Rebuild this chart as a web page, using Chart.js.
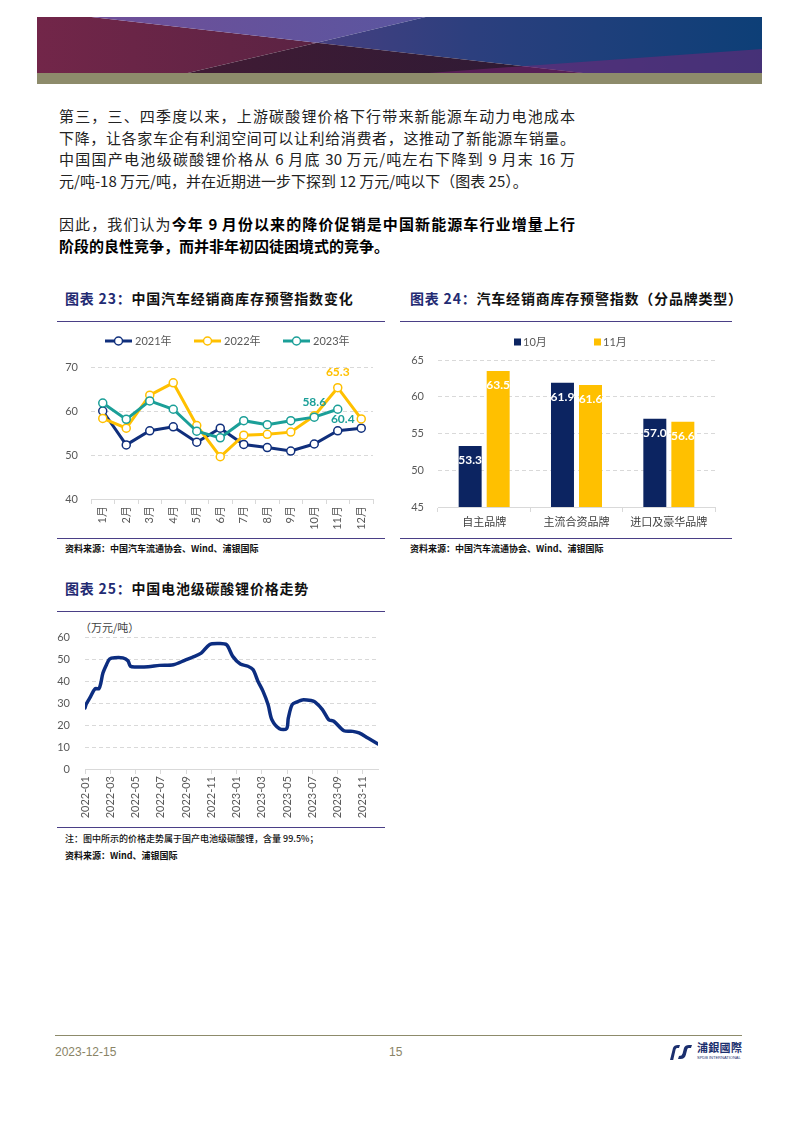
<!DOCTYPE html>
<html>
<head>
<meta charset="utf-8">
<script src="https://cdn.jsdelivr.net/npm/chart.js@4.4.0/dist/chart.umd.min.js"></script>
<style>
  body { margin: 0; width: 794px; height: 1123px; position: relative; background: #fff; overflow: hidden;
         font-family: "Noto Sans CJK SC", sans-serif; }
  .abs { position: absolute; }
  .p { position: absolute; left: 0; top: 0; width: 100%; height: 100%; }
  .txt { font-size: 15px; line-height: 21.7px; color: #222; }
  .j { text-align: justify; text-align-last: justify; }
  .txt b { color: #000; }
  .title { font-size: 14px; font-weight: 700; letter-spacing: 0.8px; color: #111; line-height: 18px; white-space: nowrap; }
  .tn { color: #232a72; }
  .rule { height: 1.3px; background: #4a3f86; }
  .src { font-size: 9px; font-weight: 600; color: #111; white-space: nowrap; }
  .foot { font-family: "Liberation Sans Narrow", "Liberation Sans", sans-serif; font-size: 12px; color: #8a8466; }
</style>
</head>
<body>

<!-- header banner -->
<div class="abs" style="left:37px;top:17px;width:725px;height:56px;overflow:hidden">
  <div class="p" style="background:linear-gradient(90deg,#722649,#5a2343 40%);clip-path:polygon(0 0,7.5% 0,38.6% 45.8%,20.8% 100%,0 100%)"></div>
  <div class="p" style="background:linear-gradient(90deg,#6e4f98 10%,#5a56a0 54%);clip-path:polygon(7.5% 0,53.6% 0,38.6% 45.8%)"></div>
  <div class="p" style="background:linear-gradient(90deg,#463f80 38%,#2c3f7e 60%,#0d3f77 100%);clip-path:polygon(53.6% 0,100% 0,100% 100%,75.3% 100%,38.6% 45.8%)"></div>
  <div class="p" style="background:linear-gradient(90deg,#3f1b34 25%,#2c1a35 75%);clip-path:polygon(38.6% 45.8%,75.3% 100%,20.8% 100%)"></div>
  <div class="p" style="background:rgba(125,35,120,0.5);clip-path:polygon(54% 100%,100% 57%,100% 100%)"></div>
</div>
<div class="abs" style="left:37px;top:73px;width:725px;height:11px;background:#8d8b6b"></div>

<!-- body text -->
<div class="abs txt" style="left:59px;top:105px;width:516px">
  <div class="j">第三，三、四季度以来，上游碳酸锂价格下行带来新能源车动力电池成本</div>
  <div class="j">下降，让各家车企有利润空间可以让利给消费者，这推动了新能源车销量。</div>
  <div class="j">中国国产电池级碳酸锂价格从 6 月底 30 万元/吨左右下降到 9 月末 16 万</div>
  <div>元/吨-18 万元/吨，并在近期进一步下探到 12 万元/吨以下（图表 25）。</div>
</div>
<div class="abs txt" style="left:59px;top:213px;width:516px">
  <div class="j">因此，我们认为<b>今年 9 月份以来的降价促销是中国新能源车行业增量上行</b></div>
  <div><b>阶段的良性竞争，而并非年初囚徒困境式的竞争。</b></div>
</div>

<!-- chart 23 -->
<div class="abs title" style="left:65px;top:289px"><span class="tn">图表 23：</span>中国汽车经销商库存预警指数变化</div>
<div class="abs rule" style="left:57px;top:321px;width:328px"></div>
<canvas id="c23" class="abs" style="left:57px;top:328px" width="330" height="205"></canvas>
<div class="abs rule" style="left:57px;top:538px;width:328px"></div>
<div class="abs src" style="left:65px;top:542px">资料来源：中国汽车流通协会、Wind、浦银国际</div>

<!-- chart 24 -->
<div class="abs title" style="left:410px;top:289px"><span class="tn">图表 24：</span>汽车经销商库存预警指数（分品牌类型）</div>
<div class="abs rule" style="left:400px;top:321px;width:332px"></div>
<canvas id="c24" class="abs" style="left:400px;top:328px" width="335" height="205"></canvas>
<div class="abs rule" style="left:400px;top:538px;width:332px"></div>
<div class="abs src" style="left:410px;top:542px">资料来源：中国汽车流通协会、Wind、浦银国际</div>

<!-- chart 25 -->
<div class="abs title" style="left:65px;top:579px"><span class="tn">图表 25：</span>中国电池级碳酸锂价格走势</div>
<div class="abs rule" style="left:57px;top:611px;width:328px"></div>
<div class="abs" style="left:80px;top:619px;font-size:11px;color:#404040">（万元/吨）</div>
<canvas id="c25" class="abs" style="left:57px;top:615px" width="330" height="208"></canvas>
<div class="abs rule" style="left:57px;top:827px;width:328px"></div>
<div class="abs src" style="left:65px;top:832px;font-weight:500">注：图中所示的价格走势属于国产电池级碳酸锂，含量 99.5%；</div>
<div class="abs src" style="left:65px;top:849px">资料来源：Wind、浦银国际</div>

<!-- footer -->
<div class="abs" style="left:55px;top:1035px;width:687px;height:1px;background:#8d8b6b"></div>
<div class="abs foot" style="left:55px;top:1045px">2023-12-15</div>
<div class="abs foot" style="left:389px;top:1045px">15</div>
<svg class="abs" style="left:668px;top:1042px" width="26" height="20" viewBox="0 0 26 20">
  <path d="M2 18 L5 6 Q6 3 10 3 L12 3 L11 6 L9 6 Q8 6 7.6 7.5 L5.2 18 Z" fill="#1b2f6e"/>
  <path d="M11 14 Q14 14 14.6 11.5 L16 6 Q17 3 21 3 L24 3 L23 6 L20.5 6 Q19.5 6 19.2 7.5 L17.8 13 Q16.8 17 12.5 17 L10 17 Z" fill="#1b2f6e"/>
</svg>
<div class="abs" style="left:697px;top:1039px;font-family:'Noto Sans CJK TC';font-size:11px;font-weight:700;color:#1b2f6e;letter-spacing:0.3px">浦銀國際</div>
<div class="abs" style="left:697px;top:1055px;font-family:'Liberation Sans';font-size:4px;color:#1b2f6e">SPDB INTERNATIONAL</div>

<script>
Chart.defaults.font.family = 'Lato, "Noto Sans CJK SC", sans-serif';
Chart.defaults.font.size = 11;
Chart.defaults.color = "#595959";

// 图表23 库存预警指数
const months = ["1月", "2月", "3月", "4月", "5月", "6月", "7月", "8月", "9月", "10月", "11月", "12月"];
const idx2021 = [60.0, 52.3, 55.5, 56.4, 52.9, 56.1, 52.4, 51.7, 50.9, 52.5, 55.5, 56.1];
const idx2022 = [58.3, 56.1, 63.6, 66.4, 56.7, 49.6, 54.5, 54.7, 55.2, 58.9, 65.3, 58.2];
const idx2023 = [61.8, 58.1, 62.3, 60.4, 55.4, 53.9, 57.8, 56.9, 57.8, 58.6, 60.4, null];

// 图表24 分品牌
const brands = ["自主品牌", "主流合资品牌", "进口及豪华品牌"];
const octIdx = [53.3, 61.9, 57.0];
const novIdx = [63.5, 61.6, 56.6];

// 图表25 碳酸锂价格 (x = months since 2022-01)
const priceMonth = [0, 0.1, 0.45, 0.8, 1.1, 1.25, 1.42, 1.7, 1.95, 2.35, 3.0, 3.4, 3.6, 4.05, 5.0, 5.9, 7.0, 7.9, 8.5, 9.2,
  9.85, 10.5, 11.2, 11.7, 12.3, 12.9, 13.3, 13.7, 14.1, 14.5, 14.8, 15.4, 15.96, 16.1, 16.4, 16.8, 17.2, 17.9, 18.2,
  18.8, 19.3, 19.7, 20.5, 21.2, 21.7, 22.4, 23.2];
const priceValue = [27.7, 29.5, 33, 36.5, 36.5, 39, 43.6, 47.4, 50, 50.6, 50.5, 49.2, 46.7, 46.4, 46.5, 47.1, 47.4, 49.4, 50.8, 52.7,
  56.5, 57, 56.5, 51.2, 47.7, 46.7, 45.2, 39.8, 35.3, 29.2, 22.4, 18.3, 18.3, 23.2, 29.2, 30.5, 31.4, 31.1, 30.5,
  27, 22.4, 21.7, 17.4, 17.1, 16.4, 14.1, 11.4];

const NAVY = "#102f7c", GOLD = "#ffc000", TEAL = "#1b9f98", BARNAVY = "#0c2461";

const lineLegend = {
  id: "lineLegend",
  afterDraw(chart, args, opts) {
    const ctx = chart.ctx;
    ctx.save();
    chart.data.datasets.forEach((ds, i) => {
      const x = opts.x + i * opts.gap, y = opts.y;
      ctx.strokeStyle = ds.borderColor;
      ctx.lineWidth = 3;
      ctx.beginPath(); ctx.moveTo(x, y); ctx.lineTo(x + 27, y); ctx.stroke();
      ctx.lineWidth = 1.5;
      ctx.fillStyle = "#fff";
      ctx.beginPath(); ctx.arc(x + 13.5, y, 4, 0, Math.PI * 2); ctx.fill(); ctx.stroke();
      ctx.fillStyle = "#595959";
      ctx.font = "11px " + Chart.defaults.font.family;
      ctx.textBaseline = "middle";
      ctx.fillText(ds.label, x + 30, y + 0.5);
    });
    ctx.restore();
  }
};

const boxLegend = {
  id: "boxLegend",
  afterDraw(chart, args, opts) {
    const ctx = chart.ctx;
    ctx.save();
    chart.data.datasets.forEach((ds, i) => {
      const x = opts.x + i * opts.gap, y = opts.y;
      ctx.fillStyle = ds.backgroundColor;
      ctx.fillRect(x, y - 3.5, 7, 7);
      ctx.fillStyle = "#595959";
      ctx.font = "11px " + Chart.defaults.font.family;
      ctx.textBaseline = "middle";
      ctx.fillText(ds.label, x + 9, y + 0.5);
    });
    ctx.restore();
  }
};

const pointLabels = {
  id: "pointLabels",
  afterDatasetsDraw(chart, args, opts) {
    const ctx = chart.ctx;
    ctx.save();
    ctx.font = "bold 12px " + Chart.defaults.font.family;
    ctx.textAlign = "center";
    ctx.textBaseline = "middle";
    opts.items.forEach(it => {
      const ds = chart.data.datasets[it.ds];
      const el = chart.getDatasetMeta(it.ds).data[it.i];
      ctx.fillStyle = ds.borderColor;
      ctx.fillText(ds.data[it.i].toFixed(1), el.x + it.dx, el.y + it.dy);
    });
    ctx.restore();
  }
};

const barLabels = {
  id: "barLabels",
  afterDatasetsDraw(chart) {
    const ctx = chart.ctx;
    ctx.save();
    ctx.font = "bold 12px " + Chart.defaults.font.family;
    ctx.textAlign = "center";
    ctx.textBaseline = "middle";
    ctx.fillStyle = "#fff";
    chart.data.datasets.forEach((ds, d) => {
      chart.getDatasetMeta(d).data.forEach((bar, i) => {
        ctx.fillText(ds.data[i].toFixed(1), bar.x, bar.y + 14);
      });
    });
    ctx.restore();
  }
};

const lineDs = (label, data, color, order) => ({
  label: label,
  data: data,
  borderColor: color,
  borderWidth: 3,
  pointRadius: 4,
  pointBorderWidth: 1.5,
  pointBackgroundColor: "#fff",
  pointBorderColor: color,
  order: order,
  tension: 0
});

new Chart(document.getElementById("c23"), {
  type: "line",
  data: {
    labels: months,
    datasets: [
      lineDs("2021年", idx2021, NAVY, 2),
      lineDs("2022年", idx2022, GOLD, 1),
      lineDs("2023年", idx2023, TEAL, 0)
    ]
  },
  options: {
    responsive: false,
    animation: false,
    layout: { padding: { top: 39, right: 14, left: 0, bottom: 0 } },
    plugins: {
      legend: { display: false },
      tooltip: { enabled: false },
      lineLegend: { x: 48, y: 13, gap: 89 },
      pointLabels: { items: [{ ds: 1, i: 10, dx: 0, dy: -16 }, { ds: 2, i: 9, dx: 0, dy: -15 }, { ds: 2, i: 10, dx: 5, dy: 10 }] }
    },
    scales: {
      x: {
        offset: true,
        grid: { display: true, drawOnChartArea: false, offset: true, tickLength: 5, color: "#d9d9d9" },
        border: { color: "#d9d9d9" },
        ticks: { minRotation: 90, maxRotation: 90, padding: 2, autoSkip: false },
        afterFit: s => { s.height = 34; }
      },
      y: {
        min: 40, max: 70,
        ticks: { stepSize: 10, padding: 13 },
        grid: { color: "#d9d9d9", drawTicks: false },
        border: { display: false, dash: [4, 3] },
        afterFit: s => { s.width = 34; }
      }
    }
  },
  plugins: [lineLegend, pointLabels]
});

new Chart(document.getElementById("c24"), {
  type: "bar",
  data: {
    labels: brands,
    datasets: [
      { label: "10月", data: octIdx, backgroundColor: BARNAVY },
      { label: "11月", data: novIdx, backgroundColor: GOLD }
    ]
  },
  options: {
    responsive: false,
    animation: false,
    layout: { padding: { top: 32, right: 20, left: 0, bottom: 0 } },
    datasets: { bar: { categoryPercentage: 0.607, barPercentage: 0.82 } },
    plugins: {
      legend: { display: false },
      tooltip: { enabled: false },
      boxLegend: { x: 114, y: 14, gap: 80 }
    },
    scales: {
      x: {
        grid: { display: true, drawOnChartArea: false, offset: true, tickLength: 5, color: "#d9d9d9" },
        border: { color: "#d9d9d9" },
        ticks: { color: "#404040", padding: 4, maxRotation: 0 },
        afterFit: s => { s.height = 26; }
      },
      y: {
        min: 45, max: 65,
        ticks: { stepSize: 5, padding: 14 },
        grid: { color: "#d9d9d9", drawTicks: false },
        border: { display: false, dash: [4, 3] },
        afterFit: s => { s.width = 38; }
      }
    }
  },
  plugins: [boxLegend, barLabels]
});

new Chart(document.getElementById("c25"), {
  type: "line",
  data: {
    datasets: [{
      label: "电池级碳酸锂",
      data: priceMonth.map((m, i) => ({ x: m, y: priceValue[i] })),
      borderColor: "#0c2d80",
      borderWidth: 3.5,
      pointRadius: 0,
      tension: 0.3,
      borderJoinStyle: "round",
      borderCapStyle: "round"
    }]
  },
  options: {
    responsive: false,
    animation: false,
    layout: { padding: { top: 22, right: 9, left: 0, bottom: 0 } },
    plugins: { legend: { display: false }, tooltip: { enabled: false } },
    scales: {
      x: {
        type: "linear",
        min: 0, max: 23.2,
        afterBuildTicks: s => { s.ticks = s.ticks.filter(t => t.value % 2 === 0 && t.value <= 22); },
        ticks: {
          stepSize: 2, autoSkip: false, minRotation: 90, maxRotation: 90, padding: 2,
          callback: v => (2022 + Math.floor(v / 12)) + "-" + String(v % 12 + 1).padStart(2, "0")
        },
        grid: { display: true, drawOnChartArea: false, tickLength: 5, color: "#d9d9d9" },
        border: { color: "#d9d9d9" },
        afterFit: s => { s.height = 54; }
      },
      y: {
        min: 0, max: 60,
        ticks: { stepSize: 10, padding: 15 },
        grid: { color: "#d9d9d9", drawTicks: false },
        border: { display: false, dash: [4, 3] },
        afterFit: s => { s.width = 28; }
      }
    }
  }
});
</script>
</body>
</html>
